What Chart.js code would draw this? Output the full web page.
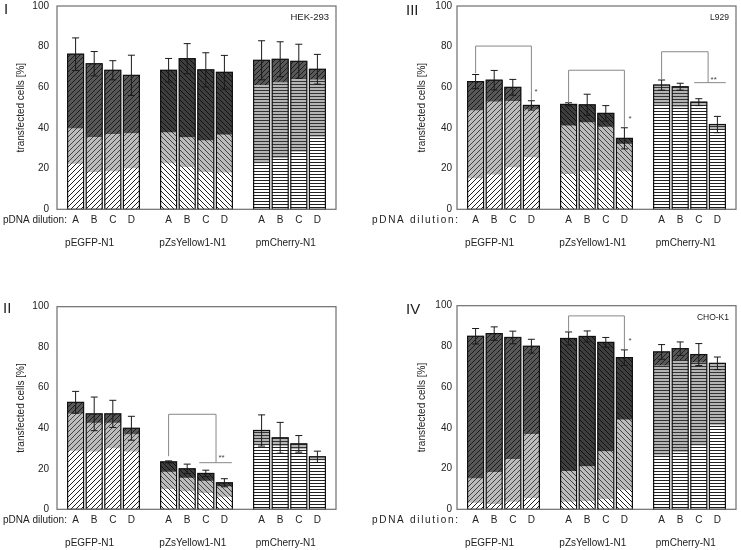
<!DOCTYPE html>
<html>
<head>
<meta charset="utf-8">
<script src="https://cdn.jsdelivr.net/npm/chart.js@4.4.1/dist/chart.umd.min.js"></script>
<style>
html, body { margin: 0; padding: 0; background: #fff; }
body { width: 741px; height: 550px; position: relative; overflow: hidden; }
.panel { position: absolute; height: 250px; }
.left { left: 0; width: 341px; }
.right { left: 370px; width: 371px; }
</style>
</head>
<body>
<div class="panel left" style="top:0"><canvas id="chartI"></canvas></div>
<div class="panel right" style="top:0"><canvas id="chartIII"></canvas></div>
<div class="panel left" style="top:300px"><canvas id="chartII"></canvas></div>
<div class="panel right" style="top:300px"><canvas id="chartIV"></canvas></div>
<script>
const dilutions = ['A', 'B', 'C', 'D'];
const plasmids = ['pEGFP-N1', 'pZsYellow1-N1', 'pmCherry-N1'];
const yTicks = [0, 20, 40, 60, 80, 100];

// I - HEK-293 (segment heights: low / mid / high, then error)
const hekLow = [22.3, 18.2, 18.5, 20.0, 22.5, 20.6, 18.2, 18.0, 22.5, 25.0, 28.2, 35.3];
const hekMid = [17.4, 17.2, 18.4, 17.3, 15.2, 14.7, 15.6, 18.6, 38.5, 37.3, 35.9, 28.4];
const hekHigh = [36.6, 36.2, 31.5, 28.6, 30.7, 38.8, 34.8, 30.8, 12.3, 11.5, 8.7, 5.2];
const hekErr = [8.0, 6.0, 4.7, 9.9, 5.8, 7.4, 8.4, 8.3, 9.6, 8.6, 8.4, 7.3];

// III - L929
const l929Low = [15.1, 17.0, 20.5, 25.4, 17.2, 18.5, 19.0, 18.5, 50.8, 50.0, 51.0, 39.0];
const l929Mid = [33.4, 35.9, 32.6, 23.6, 23.9, 24.1, 21.5, 13.6, 10.3, 10.3, 1.7, 2.7];
const l929High = [14.3, 10.6, 6.9, 2.1, 10.5, 8.8, 6.7, 2.8, 0, 0, 0, 0];
const l929Err = [3.5, 4.8, 3.9, 2.3, 0.8, 5.2, 3.8, 5.2, 2.5, 1.7, 1.7, 4.0];

// II
const iiLow = [28.7, 28.4, 30.0, 28.4, 9.8, 8.7, 7.9, 6.0, 31.5, 31.0, 29.5, 24.0];
const iiMid = [18.4, 14.1, 12.5, 8.5, 8.6, 6.7, 6.0, 5.2, 7.4, 4.3, 2.8, 1.9];
const iiHigh = [5.7, 4.6, 4.6, 3.1, 5.0, 4.6, 3.8, 1.9, 0, 0, 0, 0];
const iiErr = [5.4, 8.3, 6.7, 5.9, 0.5, 2.3, 1.6, 2.0, 7.7, 7.6, 4.1, 2.8];

// IV - CHO-K1
const choLow = [3.0, 2.5, 3.5, 5.4, 3.5, 3.9, 4.9, 9.5, 26.3, 27.9, 31.2, 41.1];
const choMid = [12.1, 15.6, 21.0, 31.4, 15.1, 17.1, 23.5, 34.4, 44.2, 45.3, 40.8, 30.6];
const choHigh = [69.9, 68.2, 59.9, 43.3, 65.3, 63.9, 53.6, 30.6, 6.8, 5.7, 4.0, 0];
const choErr = [3.8, 3.3, 3.1, 3.4, 3.2, 2.7, 2.4, 3.8, 3.6, 3.3, 5.4, 3.1];

// significance brackets: [from slot, to slot, top value, left foot, right foot]
const l929Brackets = [[1, 4, 80.3, 66.9, 53.8], [6, 9, 68.4, 52.4, 40.6], [11, 13.5, 77.5, 63.6, 62.3]];
const l929Lines = [[12.75, 14.45, 62.3]];
const l929Stars = [['*', 4.25, 57.8], ['*', 9.3, 44.6], ['**', 13.8, 63.8]];
const iiBrackets = [[6, 8.55, 46.9, 26.2, 23.0]];
const iiLines = [[7.65, 9.4, 23.0]];
const iiStars = [['**', 8.85, 25.5]];
const choBrackets = [[6, 9, 95.0, 87.5, 78.6]];
const choStars = [['*', 9.3, 82.6]];

Chart.defaults.font.family = '"Liberation Sans", Arial, sans-serif';
Chart.defaults.color = '#222';

// category slots: blank, A-D, blank, A-D, blank, A-D, blank
const xLabels = ['', ...dilutions, '', ...dilutions, '', ...dilutions, ''];
function pad(arr) {
    return [null, ...arr.slice(0, 4), null, ...arr.slice(4, 8), null, ...arr.slice(8, 12), null];
}
const grp = i => Math.floor((i - 1) / 5);

function hatch(bg, kind, line) {
    const c = document.createElement('canvas');
    const s = kind === 'h' ? 3 : 5;
    c.width = kind === 'h' ? 4 : s;
    c.height = s;
    const g = c.getContext('2d');
    g.fillStyle = bg;
    g.fillRect(0, 0, c.width, c.height);
    g.strokeStyle = line;
    g.lineWidth = 1;
    g.beginPath();
    if (kind === 'h') {
        g.moveTo(0, 0.5); g.lineTo(4, 0.5);
    } else if (kind === '/') {
        g.moveTo(0, s); g.lineTo(s, 0);
        g.moveTo(-1, 1); g.lineTo(1, -1);
        g.moveTo(s - 1, s + 1); g.lineTo(s + 1, s - 1);
    } else {
        g.moveTo(0, 0); g.lineTo(s, s);
        g.moveTo(-1, s - 1); g.lineTo(1, s + 1);
        g.moveTo(s - 1, -1); g.lineTo(s + 1, 1);
    }
    g.stroke();
    return g.createPattern(c, 'repeat');
}

const lowFill = [hatch('#ffffff', '/', '#222'), hatch('#ffffff', '\\', '#222'), hatch('#ffffff', 'h', '#222')];
const midFill = [hatch('#bcbcbc', '/', '#444'), hatch('#bcbcbc', '\\', '#444'), hatch('#b4b4b4', 'h', '#333')];
const highFill = [hatch('#585858', '/', '#1c1c1c'), hatch('#3e3e3e', '\\', '#111'), hatch('#585858', '/', '#1c1c1c')];

const decor = {
    id: 'decor',
    afterDatasetsDraw(chart, args, o) {
        const { ctx, chartArea: a, scales: { x, y } } = chart;
        const d = chart.data.datasets;
        const meta = chart.getDatasetMeta(0);
        const base = y.getPixelForValue(0);
        ctx.save();

        // bar outlines + error bars
        for (let i = 0; i < xLabels.length; i++) {
            if (d[0].data[i] === null) continue;
            const total = d[0].data[i] + d[1].data[i] + d[2].data[i];
            const el = meta.data[i];
            const top = y.getPixelForValue(total);
            ctx.strokeStyle = '#111';
            ctx.lineWidth = 1.2;
            ctx.strokeRect(el.x - el.width / 2, top, el.width, base - top);
            const e = o.err[i];
            const hi = y.getPixelForValue(total + e);
            const lo = y.getPixelForValue(total - e);
            ctx.strokeStyle = '#1a1a1a';
            ctx.lineWidth = 1;
            ctx.beginPath();
            ctx.moveTo(el.x, hi); ctx.lineTo(el.x, lo);
            ctx.moveTo(el.x - 3.5, hi); ctx.lineTo(el.x + 3.5, hi);
            ctx.moveTo(el.x - 3.5, lo); ctx.lineTo(el.x + 3.5, lo);
            ctx.stroke();
        }

        // frame
        ctx.strokeStyle = '#6e6e6e';
        ctx.lineWidth = 1.2;
        ctx.strokeRect(a.left, a.top, a.right - a.left, a.bottom - a.top);

        // brackets
        ctx.strokeStyle = '#888';
        ctx.lineWidth = 1;
        (o.brackets || []).forEach(([i0, i1, t, b0, b1]) => {
            ctx.beginPath();
            ctx.moveTo(x.getPixelForValue(i0), y.getPixelForValue(b0));
            ctx.lineTo(x.getPixelForValue(i0), y.getPixelForValue(t));
            ctx.lineTo(x.getPixelForValue(i1), y.getPixelForValue(t));
            ctx.lineTo(x.getPixelForValue(i1), y.getPixelForValue(b1));
            ctx.stroke();
        });
        (o.lines || []).forEach(([i0, i1, v]) => {
            ctx.beginPath();
            ctx.moveTo(x.getPixelForValue(i0), y.getPixelForValue(v));
            ctx.lineTo(x.getPixelForValue(i1), y.getPixelForValue(v));
            ctx.stroke();
        });
        ctx.fillStyle = '#444';
        ctx.font = '8px "Liberation Sans", Arial, sans-serif';
        ctx.textAlign = 'center';
        ctx.textBaseline = 'middle';
        (o.stars || []).forEach(([s, i, v]) => ctx.fillText(s, x.getPixelForValue(i), y.getPixelForValue(v)));

        // texts
        ctx.fillStyle = '#222';
        if (o.cell) {
            ctx.font = o.cellSize + 'px "Liberation Sans", Arial, sans-serif';
            ctx.textAlign = 'right';
            ctx.textBaseline = 'alphabetic';
            ctx.fillText(o.cell, a.right - 7, a.top + 14);
        }
        ctx.font = '10px "Liberation Sans", Arial, sans-serif';
        ctx.textAlign = 'left';
        ctx.textBaseline = 'middle';
        ctx.letterSpacing = o.dilSpacing;
        ctx.fillText('pDNA dilution:', o.dilX, a.bottom + 11);
        ctx.letterSpacing = '0px';
        ctx.textAlign = 'center';
        [1.75, 7.3, 12.3].forEach((p, k) => ctx.fillText(plasmids[k], x.getPixelForValue(p), a.bottom + 34));

        ctx.font = '15px "Liberation Sans", Arial, sans-serif';
        ctx.textAlign = 'left';
        ctx.textBaseline = 'alphabetic';
        ctx.fillText(o.numeral, o.numX, a.top + o.numDy);
        ctx.restore();
    }
};

function panel(id, low, mid, high, err, o) {
    new Chart(document.getElementById(id), {
        type: 'bar',
        data: {
            labels: xLabels,
            datasets: [
                { data: pad(low), backgroundColor: c => lowFill[grp(c.dataIndex)] },
                { data: pad(mid), backgroundColor: c => midFill[grp(c.dataIndex)] },
                { data: pad(high), backgroundColor: c => highFill[grp(c.dataIndex)] }
            ]
        },
        options: {
            responsive: true,
            maintainAspectRatio: false,
            animation: false,
            layout: { padding: { top: o.padTop, right: 1, left: 0, bottom: 0 } },
            datasets: { bar: { barThickness: 16, borderWidth: 0 } },
            plugins: {
                legend: { display: false },
                tooltip: { enabled: false },
                decor: Object.assign({ err: pad(err) }, o)
            },
            scales: {
                x: {
                    stacked: true,
                    offset: false,
                    grid: { display: false, drawTicks: false },
                    border: { display: false },
                    ticks: { autoSkip: false, maxRotation: 0, padding: 5, font: { size: 10 } },
                    afterFit: s => { s.height = 40.7; }
                },
                y: {
                    stacked: true,
                    min: 0,
                    max: 100,
                    afterBuildTicks: s => { s.ticks = yTicks.map(v => ({ value: v })); },
                    grid: { display: false, drawTicks: false },
                    border: { display: false },
                    ticks: { padding: o.tickPad, font: { size: 10 } },
                    title: { display: true, text: 'transfected cells [%]', font: { size: 10 }, padding: { top: o.titlePad, bottom: 0 } },
                    afterFit: s => { s.width = o.axisW; s.paddingTop = 0; s.paddingBottom = 0; }
                }
            }
        },
        plugins: [decor]
    });
}

panel('chartI', hekLow, hekMid, hekHigh, hekErr,
    { numeral: 'I', numX: 4, numDy: 8, cell: 'HEK-293', cellSize: 9.5, dilX: 3, dilSpacing: '0px',
      padTop: 6, axisW: 57, tickPad: 8, titlePad: 15 });
panel('chartIII', l929Low, l929Mid, l929High, l929Err,
    { numeral: 'III', numX: 36, numDy: 9, cell: 'L929', cellSize: 8.5, dilX: 2, dilSpacing: '1.7px',
      padTop: 6, axisW: 87, tickPad: 5, titlePad: 46,
      brackets: l929Brackets, lines: l929Lines, stars: l929Stars });
panel('chartII', iiLow, iiMid, iiHigh, iiErr,
    { numeral: 'II', numX: 3, numDy: 6, cell: '', cellSize: 9.5, dilX: 3, dilSpacing: '0px',
      padTop: 6.7, axisW: 57, tickPad: 8, titlePad: 15,
      brackets: iiBrackets, lines: iiLines, stars: iiStars });
panel('chartIV', choLow, choMid, choHigh, choErr,
    { numeral: 'IV', numX: 36, numDy: 8, cell: 'CHO-K1', cellSize: 8.5, dilX: 2, dilSpacing: '1.7px',
      padTop: 5.7, axisW: 87, tickPad: 5, titlePad: 46,
      brackets: choBrackets, stars: choStars });
</script>
</body>
</html>
